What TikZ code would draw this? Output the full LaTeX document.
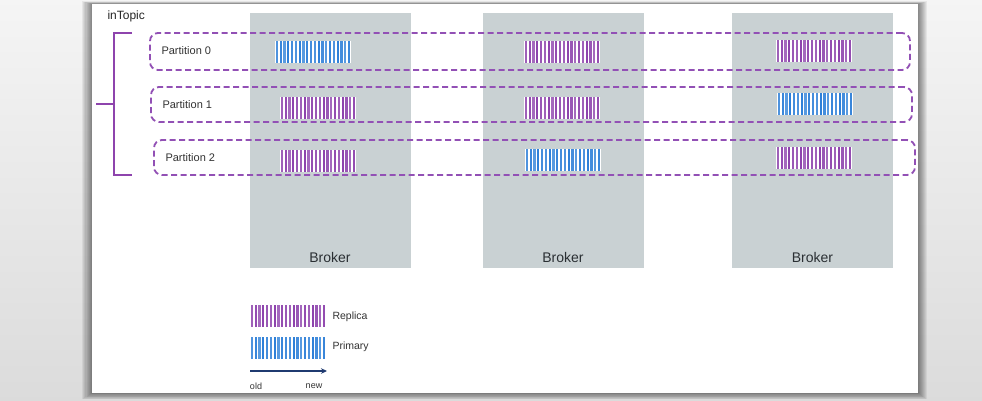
\documentclass[tikz,border=0pt]{standalone}
\usepackage{fontspec}
\setmainfont{Liberation Sans}
\usetikzlibrary{arrows.meta}
\definecolor{ppl}{HTML}{8E44AD}
\definecolor{dashppl}{HTML}{9250B5}
\definecolor{blu}{HTML}{2F80D8}
\definecolor{brokergray}{HTML}{C9D1D3}
\definecolor{txt}{HTML}{333333}
\definecolor{btxt}{HTML}{2A2F33}
\definecolor{navy}{HTML}{1F3A70}
\tikzset{
  brokerbox/.style={fill=brokergray, draw=none, minimum width=161pt, minimum height=255pt, inner sep=0pt},
  partbox/.style={draw=dashppl, line width=1.8pt, dash pattern=on 6pt off 3.5pt, rounded corners=8pt, inner sep=0pt},
  barbox/.style={minimum width=76pt, minimum height=22pt, inner sep=0pt, fill=white},
  plabel/.style={anchor=west, font=\fontsize{11}{12}\selectfont, text=txt},
  blabel/.style={font=\fontsize{14}{15}\selectfont, text=btxt},
  leglabel/.style={anchor=west, font=\fontsize{10.5}{12}\selectfont, text=txt},
  bracketline/.style={draw=ppl, line width=1.5pt},
}
\newcommand\stripebar[4]{%
  \node[barbox] (#1) at (#2+38,#3+11) {};
  \foreach \k [count=\i from 0] in {85,95,80,100,90,85,100,80,95,90,85,100,90,80,95,85,100,90,80,95}
    {\fill[#4!\k] (#2+0.8+\i*3.8,#3) rectangle ++(2.1,22);}
}
\begin{document}
\begin{tikzpicture}[x=1pt,y=-1pt]
\useasboundingbox (0,0) rectangle (982,400);
% background
\shade[top color=black!4, bottom color=black!14] (0,0) rectangle (982,400);
% page shadow
\foreach \s in {1,...,9}
  \fill[black, opacity=0.06] (92-\s*1.1,4-\s*0.3) rectangle (918+\s,393+\s*0.7);
\node[fill=white, inner sep=0pt, minimum width=826pt, minimum height=389pt] (page) at (505,198.5) {};
% brokers
\node[brokerbox] (b1) at (330,140.5) {};
\node[brokerbox] (b2) at (563,140.5) {};
\node[brokerbox] (b3) at (812.5,140.5) {};
\node[blabel] (b1t) at ([yshift=11pt]b1.south) {Broker};
\node[blabel] (b2t) at ([yshift=11pt]b2.south) {Broker};
\node[blabel] (b3t) at ([yshift=11pt]b3.south) {Broker};
% bars
\stripebar{b1p0}{275}{41}{blu}
\stripebar{b1p1}{280}{97}{ppl}
\stripebar{b1p2}{280}{150}{ppl}
\stripebar{b2p0}{524}{41}{ppl}
\stripebar{b2p1}{524}{97}{ppl}
\stripebar{b2p2}{525}{149}{blu}
\stripebar{b3p0}{776}{40}{ppl}
\stripebar{b3p1}{777}{93}{blu}
\stripebar{b3p2}{776}{147}{ppl}
% partitions
\node[partbox, minimum width=760pt, minimum height=37pt] (p0) at (530,51.5) {};
\node[partbox, minimum width=761pt, minimum height=35pt] (p1) at (531.5,104.5) {};
\node[partbox, minimum width=761pt, minimum height=35pt] (p2) at (534.5,157.5) {};
\node[plabel] (p0t) at (158,51) {Partition 0};
\node[plabel] (p1t) at (159,105) {Partition 1};
\node[plabel] (p2t) at (162,158) {Partition 2};
% topic bracket
\node[anchor=west, font=\fontsize{12}{13}\selectfont, text=black!85] (topic) at (104,16) {inTopic};
\coordinate (bt) at (132,33);
\coordinate (bt2) at (114,33);
\coordinate (bb2) at (114,175);
\coordinate (bb) at (132,175);
\coordinate (bm) at (114,104);
\coordinate (bmo) at (96,104);
\draw[bracketline] (bt) -- (bt2) -- (bb2) -- (bb);
\draw[bracketline] (bmo) -- (bm);
% legend
\stripebar{lr}{250}{305}{ppl}
\stripebar{lp}{250}{337}{blu}
\node[leglabel] (lrt) at (329,317) {Replica};
\node[leglabel] (lpt) at (329,347) {Primary};
\coordinate (ao) at (250,371);
\coordinate (an) at (327,371);
\draw[navy, line width=1.3pt, -{Stealth[length=6pt,width=5.5pt]}] (ao) -- (an);
\node[font=\fontsize{9}{10}\selectfont, text=txt] (old) at (256,386) {old};
\node[font=\fontsize{9}{10}\selectfont, text=txt] (new) at (314,386) {new};
\end{tikzpicture}
\end{document}
